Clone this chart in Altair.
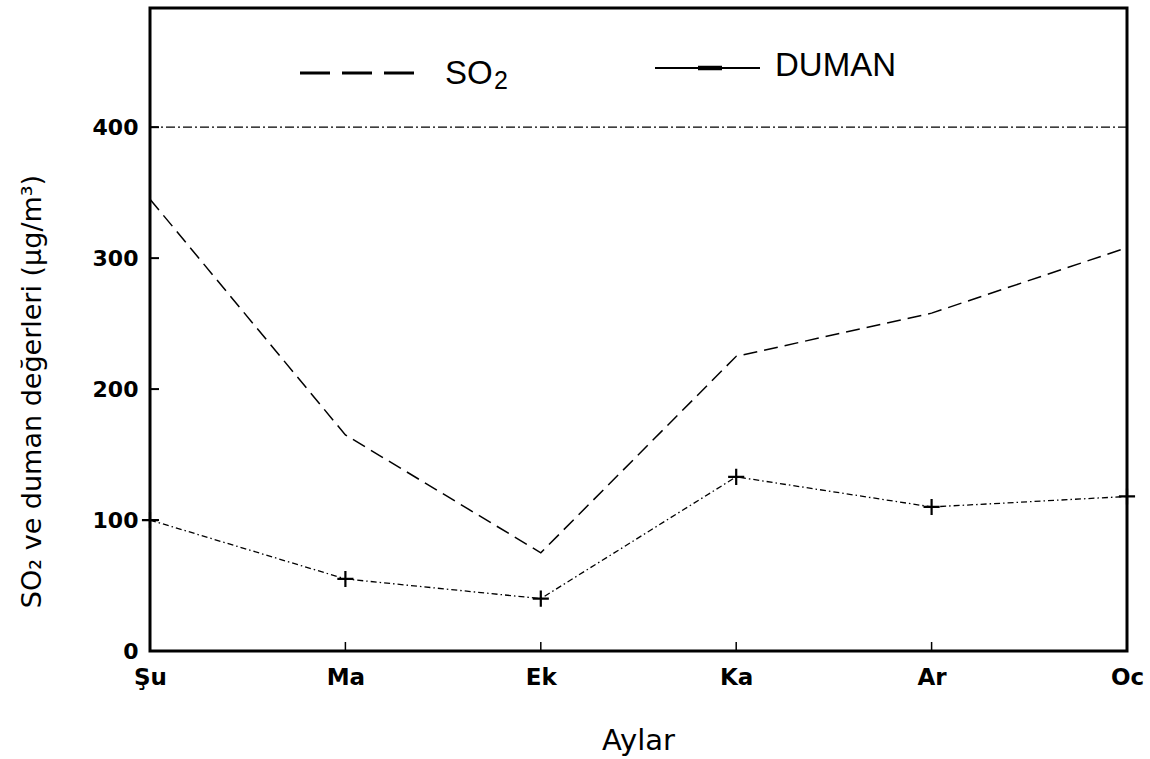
import altair as alt
import pandas as pd

months = ["Şu", "Ma", "Ek", "Ka", "Ar", "Oc"]
so2 = [345, 165, 75, 225, 258, 308]
duman = [100, 55, 40, 133, 110, 118]
limit_value = [400]
y_ticks = [100, 200, 300, 400]
x_ticks = ["Ma", "Ek", "Ka", "Ar"]

W, H = 977, 643
FONT = "DejaVu Sans"

df = pd.DataFrame({"ay": months, "so2": so2, "duman": duman})
lim = pd.DataFrame({"v": limit_value})
yt = pd.DataFrame({"v": y_ticks})
xt = pd.DataFrame({"ay": x_ticks})
one = pd.DataFrame({"k": [0]})

xscale = alt.Scale(type="point", padding=0, domain=months)
yscale = alt.Scale(domain=[0, 491], nice=False, zero=True)

X_AX = alt.Axis(title="Aylar", labelAngle=0, tickSize=0, domain=False, grid=False,
                labelFont=FONT, labelFontSize=23, labelFontWeight="bold",
                labelColor="black", labelPadding=15,
                titleFont=FONT, titleFontSize=29, titleFontWeight="normal",
                titleColor="black", titleX=488, titleY=89, titleBaseline="middle")
Y_AX = alt.Axis(title="SO₂ ve duman değerleri (µg/m³)", values=[0, 100, 200, 300, 400],
                tickSize=0, domain=False, grid=False,
                labelFont=FONT, labelFontSize=22, labelFontWeight="bold",
                labelColor="black", labelPadding=12,
                titleFont=FONT, titleFontSize=27, titleFontWeight="normal",
                titleColor="black", titleAngle=270, titleX=-118, titleY=383,
                titleAlign="center", titleBaseline="middle")


def X(field="ay"):
    return alt.X(f"{field}:N", scale=xscale, sort=months, axis=X_AX)


def Y(field):
    return alt.Y(f"{field}:Q", scale=yscale, axis=Y_AX)


base = alt.Chart(df)

so2_line = base.mark_line(color="black", strokeWidth=1.5, strokeDash=[14, 7]).encode(
    x=X(), y=Y("so2"))

duman_line = base.mark_line(color="black", strokeWidth=1.3, strokeDash=[6, 3, 1.5, 3]).encode(
    x=X(), y=Y("duman"))

duman_pts = base.mark_point(shape="M-1,0L1,0M0,-1L0,1", size=260, strokeWidth=2.2,
                            filled=False, color="black", opacity=1).encode(
    x=X(), y=Y("duman"))

limit_line = alt.Chart(lim).mark_rule(color="black", strokeWidth=1.2,
                                      strokeDash=[9, 3, 2, 3]).encode(y=Y("v"))

ytick_rules = alt.Chart(yt).mark_rule(color="black", strokeWidth=2).encode(
    y=Y("v"), x=alt.value(0), x2=alt.value(9))

xtick_rules = alt.Chart(xt).mark_rule(color="black", strokeWidth=1.5).encode(
    x=X(), y=alt.value(H), y2=alt.value(H - 9))

leg_so2 = alt.Chart(one).mark_rule(color="black", strokeWidth=2.8,
                                   strokeDash=[30, 12]).encode(
    x=alt.value(150), x2=alt.value(266), y=alt.value(65))
leg_dum = alt.Chart(one).mark_rule(color="black", strokeWidth=1.8).encode(
    x=alt.value(505), x2=alt.value(610), y=alt.value(60))
leg_dum2 = alt.Chart(one).mark_rule(color="black", strokeWidth=4.5).encode(
    x=alt.value(548), x2=alt.value(572), y=alt.value(60))
leg_t1 = alt.Chart(one).mark_text(text="SO", font="Liberation Sans", fontSize=33,
                                  align="left", baseline="alphabetic", color="black").encode(
    x=alt.value(295), y=alt.value(76))
leg_t1b = alt.Chart(one).mark_text(text="2", font="Liberation Sans", fontSize=25,
                                   align="left", baseline="alphabetic", color="black").encode(
    x=alt.value(344), y=alt.value(81))
leg_t2 = alt.Chart(one).mark_text(text="DUMAN", font="Liberation Sans", fontSize=33,
                                  align="left", baseline="alphabetic", color="black").encode(
    x=alt.value(625), y=alt.value(68))

chart = alt.layer(
    so2_line, limit_line, duman_line, duman_pts, ytick_rules, xtick_rules,
    leg_so2, leg_dum, leg_dum2, leg_t1, leg_t1b, leg_t2,
).properties(
    width=W, height=H,
    autosize=alt.AutoSizeParams(type="none"),
    padding={"left": 150, "top": 8, "right": 23, "bottom": 108},
    background="white",
).configure_view(stroke="black", strokeWidth=3).configure_axis(grid=False)

chart.save("out.html", embed_options={"renderer": "svg", "actions": False})
